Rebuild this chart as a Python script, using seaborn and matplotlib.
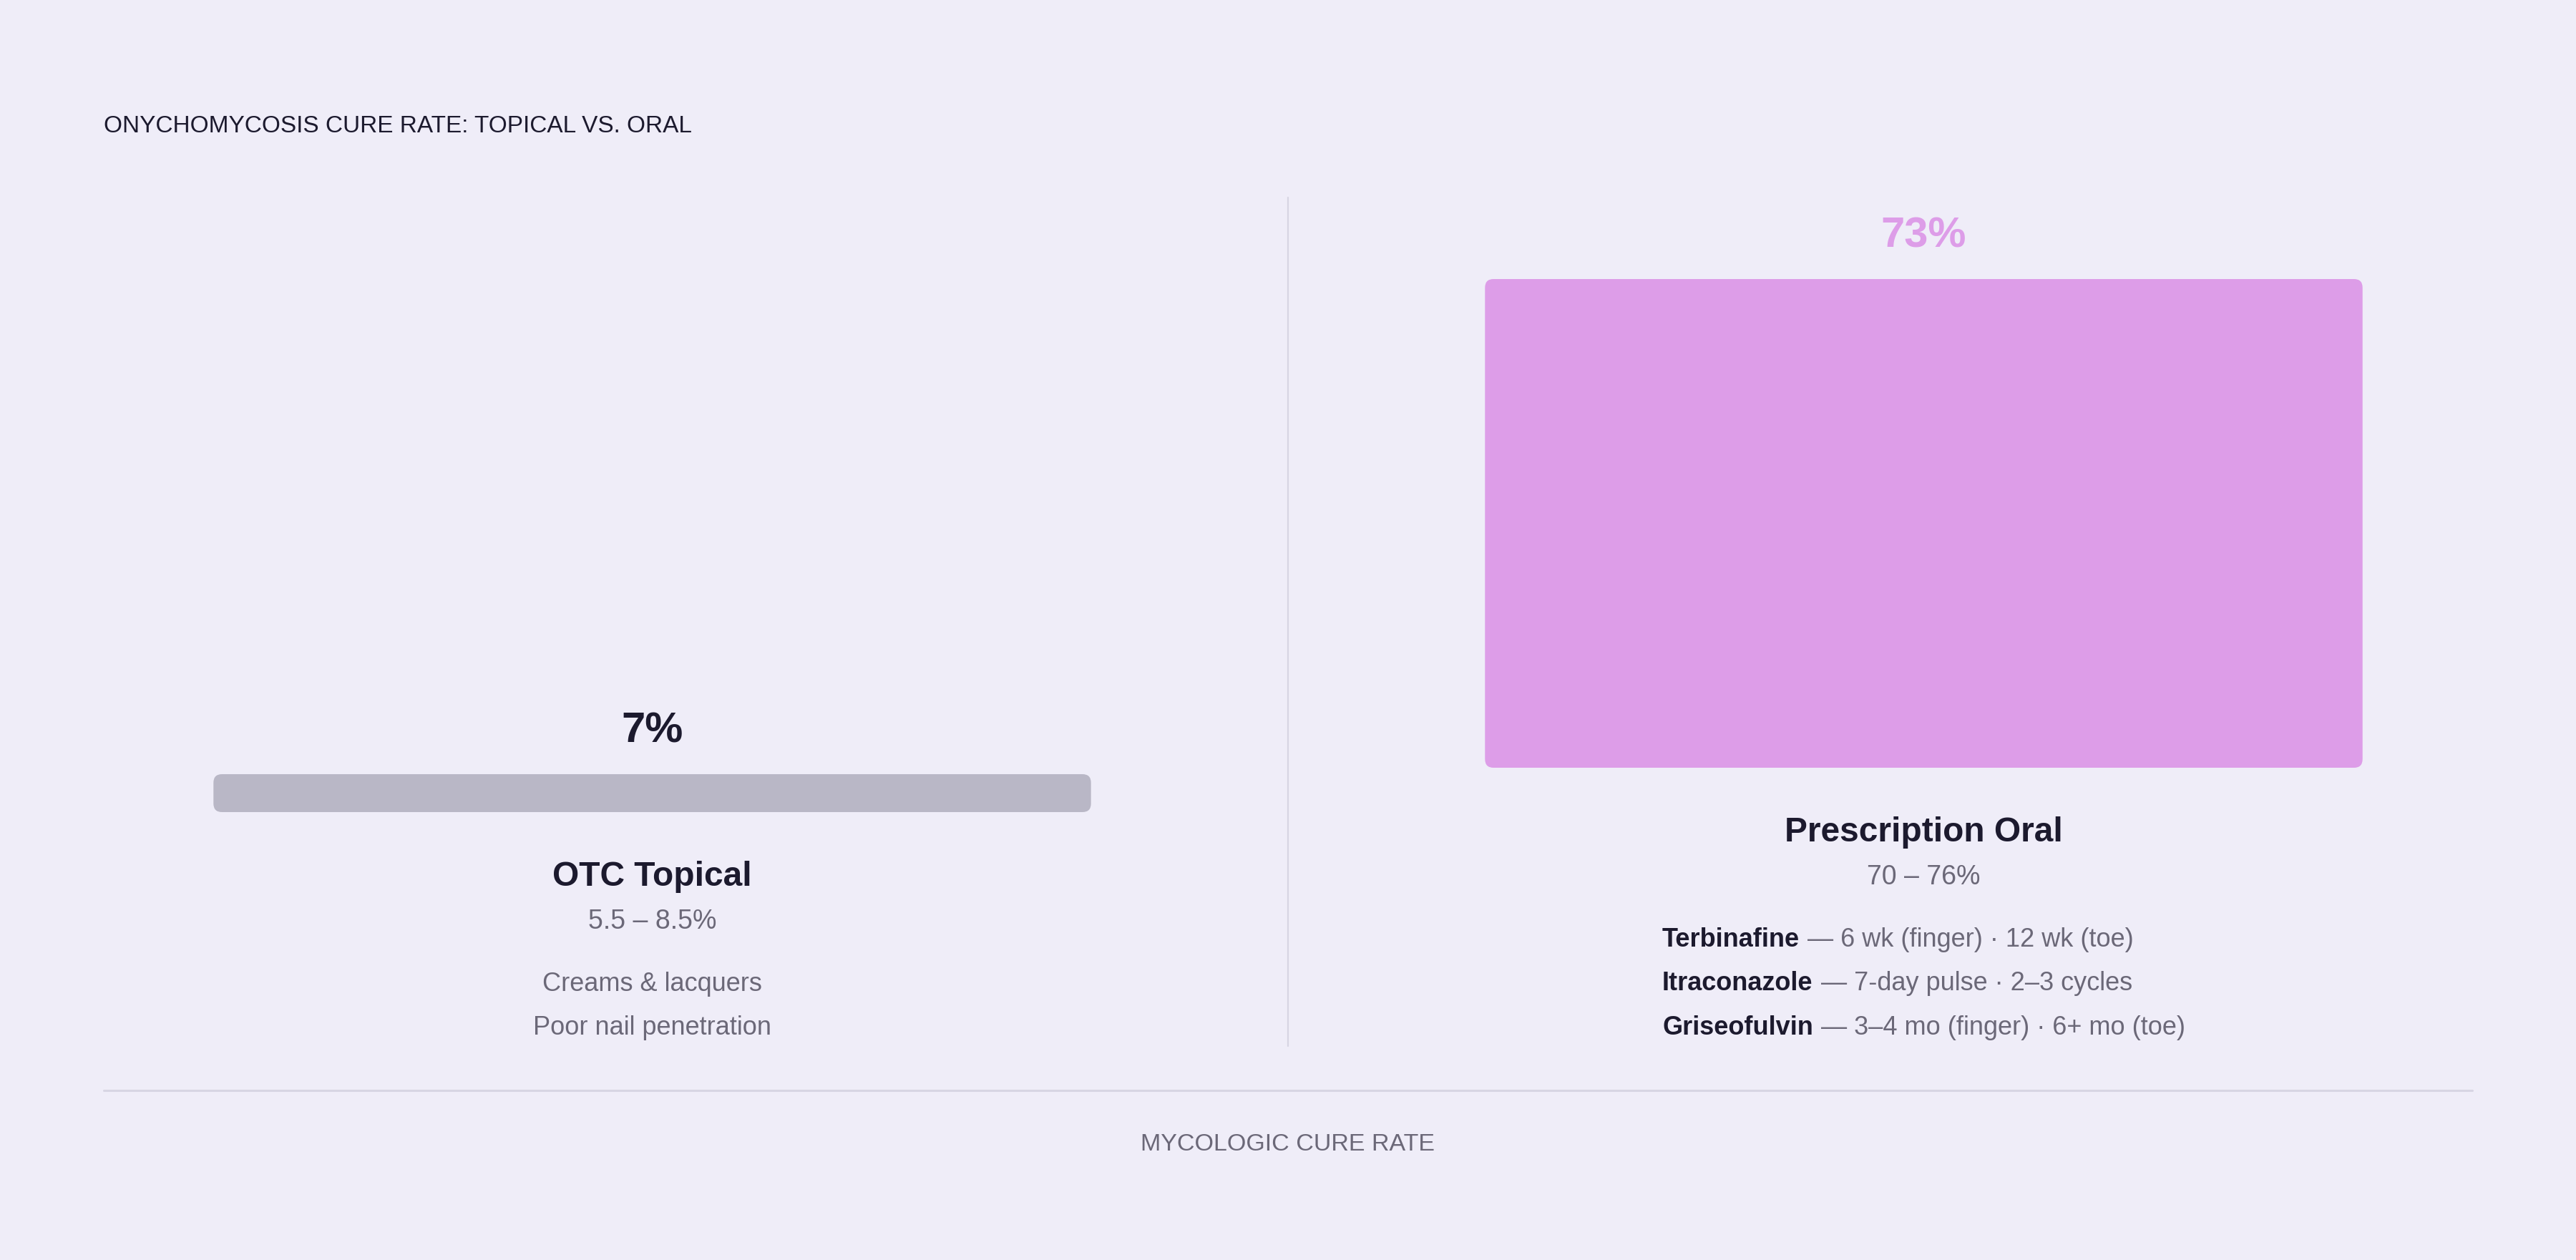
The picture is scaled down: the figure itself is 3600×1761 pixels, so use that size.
import matplotlib
matplotlib.use("Agg")
import matplotlib.pyplot as plt
from matplotlib.patches import FancyBboxPatch
from matplotlib.lines import Line2D
import seaborn as sns

# ---- data ----
CATEGORIES = ["OTC Topical", "Prescription Oral"]
CURE_RATE = [7, 73]
RANGES = ["5.5 – 8.5%", "70 – 76%"]
TOPICAL_NOTES = ["Creams & lacquers", "Poor nail penetration"]
ORAL_DRUGS = ["Terbinafine", "Itraconazole", "Griseofulvin"]
ORAL_REGIMENS = ["6 wk (finger) · 12 wk (toe)",
                 "7-day pulse · 2–3 cycles",
                 "3–4 mo (finger) · 6+ mo (toe)"]
TITLE = "ONYCHOMYCOSIS CURE RATE: TOPICAL VS. ORAL"
XLABEL = "MYCOLOGIC CURE RATE"

# ---- style ----
BG = "#efedf8"
DARK = "#1c1a2e"
GREY = "#6b6878"
RULE = "#d7d5e3"
BAR_COLORS = ["#b9b7c6", "#dd9de8"]
VALUE_COLORS = [DARK, "#dd9de8"]

FS_VALUE, FS_NAME, FS_RANGE, FS_NOTE = 43, 34.5, 27, 26
FS_TITLE, FS_XLABEL = 24, 24.5

W, H = 3600, 1761
COL_LEFT = [145, 1922]       # px, column left edges
COL_W = 1533                 # px, column width
AX_TOP = 276                 # px, top of plotting area
BAR_BASE = [1135, 1073]      # px, bar baselines (columns are bottom aligned)
BAR_TOP = [1082, 390]        # px, bar tops
RADIUS = 12                  # px corner rounding


def fx(px):
    return px / W


def fy(py):
    return 1 - py / H


sns.set_theme(style="white")
plt.rcParams["font.family"] = ["Liberation Sans", "DejaVu Sans"]

fig = plt.figure(figsize=(W / 100, H / 100), dpi=100, facecolor=BG)

for i, (cat, val) in enumerate(zip(CATEGORIES, CURE_RATE)):
    ax_h = BAR_BASE[i] - AX_TOP
    ax = fig.add_axes([fx(COL_LEFT[i]), fy(BAR_BASE[i]), COL_W / W, ax_h / H])
    sns.barplot(x=[cat], y=[val], color=BAR_COLORS[i], saturation=1,
                width=0.8, ax=ax)
    ytop = val * ax_h / (BAR_BASE[i] - BAR_TOP[i])
    ax.set_ylim(0, ytop)
    ax.set_xlim(-0.5, 0.5)
    ax.axis("off")
    ax.patch.set_alpha(0)

    # rounded corners
    px_x = COL_W / 1.0
    px_y = ax_h / ytop
    for p in list(ax.patches):
        x, y, w, h = p.get_x(), p.get_y(), p.get_width(), p.get_height()
        fc = p.get_facecolor()
        p.remove()
        ax.add_patch(FancyBboxPatch(
            (x, y), w, h,
            boxstyle=f"round,pad=0,rounding_size={RADIUS / px_x}",
            mutation_aspect=px_x / px_y, facecolor=fc, edgecolor="none",
            clip_on=False))

    # value label above the bar
    ax.annotate(f"{val:g}%", xy=(0, val), xytext=(0, 45 * 0.72),
                textcoords="offset points", ha="center", va="baseline",
                fontsize=FS_VALUE, fontweight="bold", color=VALUE_COLORS[i],
                annotation_clip=False)

    cx = COL_LEFT[i] + COL_W / 2
    name_y = BAR_BASE[i] + 103
    range_y = name_y + 60
    fig.text(fx(cx), fy(name_y), cat, ha="center", va="baseline",
             fontsize=FS_NAME, fontweight="bold", color=DARK)
    fig.text(fx(cx), fy(range_y), RANGES[i], ha="center", va="baseline",
             fontsize=FS_RANGE, color=GREY)

# topical notes (centered lines)
cx0 = COL_LEFT[0] + COL_W / 2
y0 = BAR_BASE[0] + 103 + 60 + 87
for k, note in enumerate(TOPICAL_NOTES):
    fig.text(fx(cx0), fy(y0 + k * 61.5), note, ha="center", va="baseline",
             fontsize=FS_NOTE, color=GREY)

# oral drug lines: left aligned block, centered in column
renderer = fig.canvas.get_renderer()
cx1 = COL_LEFT[1] + COL_W / 2
y1 = BAR_BASE[1] + 103 + 60 + 87
GAP = 11
rows = []
for k, (drug, reg) in enumerate(zip(ORAL_DRUGS, ORAL_REGIMENS)):
    yy = fy(y1 + k * 61.5)
    t1 = fig.text(0, yy, drug, ha="left", va="baseline", fontsize=FS_NOTE,
                  fontweight="bold", color=DARK)
    t2 = fig.text(0, yy, "— " + reg, ha="left", va="baseline",
                  fontsize=FS_NOTE, color=GREY)
    w1 = t1.get_window_extent(renderer).width
    w2 = t2.get_window_extent(renderer).width
    rows.append((t1, t2, w1, w2))
block_w = max(r[2] + GAP + r[3] for r in rows)
x0 = cx1 - block_w / 2
for t1, t2, w1, w2 in rows:
    t1.set_x(fx(x0))
    t2.set_x(fx(x0 + w1 + GAP))

# divider between columns and bottom rule
fig.add_artist(Line2D([fx(1800), fx(1800)], [fy(AX_TOP), fy(1462)],
                      color=RULE, lw=1.6))
fig.add_artist(Line2D([fx(145), fx(3455)], [fy(1524), fy(1524)],
                      color=RULE, lw=2.2))

fig.text(fx(145), fy(185), TITLE, ha="left", va="baseline",
         fontsize=FS_TITLE, color=DARK)
fig.text(fx(1800), fy(1608), XLABEL, ha="center", va="baseline",
         fontsize=FS_XLABEL, color=GREY)

fig.savefig("out.png", dpi=100, facecolor=BG)
